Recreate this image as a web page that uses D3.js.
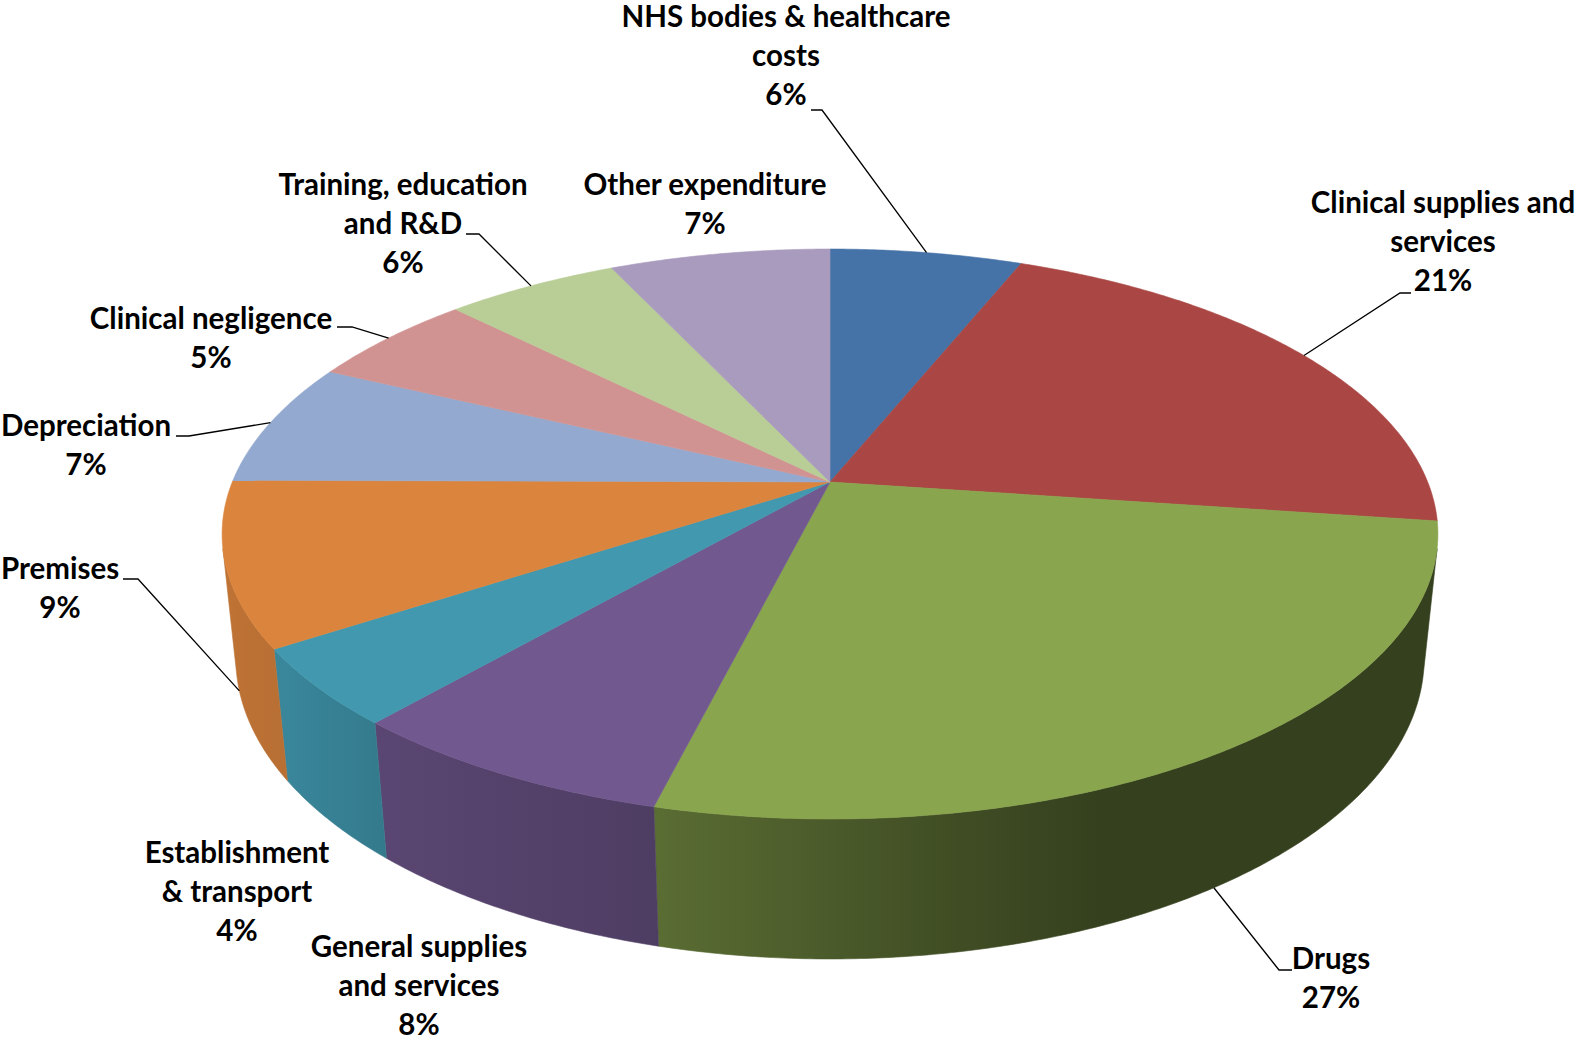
<!DOCTYPE html>
<html>
<head>
<meta charset="utf-8">
<script src="https://cdn.jsdelivr.net/npm/d3@7/dist/d3.min.js"></script>
<style>
  body { margin: 0; background: #fff; }
  .labels { font-family: Lato, "Open Sans", sans-serif; font-weight: 700; font-size: 29.5px; fill: #000; }
</style>
</head>
<body>
<svg id="chart" width="1579" height="1040"></svg>
<script>
/* chart data: expenditure categories and their shares (%) */
const categories = [
  "NHS bodies & healthcare\ncosts",
  "Clinical supplies and\nservices",
  "Drugs",
  "General supplies\nand services",
  "Establishment\n& transport",
  "Premises",
  "Depreciation",
  "Clinical negligence",
  "Training, education\nand R&D",
  "Other expenditure"
];
const values = [6.1, 21.1, 26.7, 7.5, 4.4, 9.3, 7.0, 5.4, 5.5, 7.0];
const colors = ["#4572A7", "#AA4643", "#89A54E", "#71588F", "#4198AF",
                "#DB843D", "#93A9CF", "#D19392", "#B9CD96", "#A99BBD"];

/* side wall shading, left -> right, as factor of the slice colour */
const sideShade = {
  2: [[0, 0.66], [0.31, 0.5], [0.57, 0.39], [1, 0.39]],
  3: [[0, 0.80], [1, 0.69]],
  4: [[0, 0.89], [1, 0.80]],
  5: [[0, 0.87], [1, 0.84]]
};

/* where the data labels sit (text centre x, first baseline y) and leader elbows */
const labelLayout = [
  {x: 786, y: 27, leader: [[811, 110], [822, 110]]},
  {x: 1443, y: 213, leader: [[1411, 293], [1400, 293]]},
  {x: 1331, y: 969, leader: [[1292, 970], [1279, 970]]},
  {x: 419, y: 957},
  {x: 237, y: 863},
  {x: 60, y: 579, leader: [[123, 579], [138, 579]]},
  {x: 86, y: 436, leader: [[176, 436], [189, 436]]},
  {x: 211, y: 329, leader: [[337, 327], [352, 327]]},
  {x: 403, y: 195, leader: [[466, 234], [479, 234]]},
  {x: 705, y: 195}
];

/* camera for the 3d pie (perspective, looking down) */
const cx = 830, cy = 482, focal = 2907;
const radius = 0.2056, depth = 0.0485;
const sinA = 0.4609, cosA = Math.sqrt(1 - sinA * sinA);

function project(theta, level) {
  const x = radius * Math.sin(theta);
  const z = -radius * Math.cos(theta);
  const y = level;
  const dz = 1 - y * sinA - z * cosA;
  return [cx + focal * x / dz, cy + focal * (z * sinA - y * cosA) / dz];
}

function arcPoints(a0, a1, level) {
  const n = Math.max(2, Math.ceil(Math.abs(a1 - a0) / (Math.PI / 360)));
  return d3.range(n + 1).map(i => project(a0 + (a1 - a0) * i / n, level));
}

function shade(c, f) {
  const r = d3.rgb(c);
  return d3.rgb(r.r * f, r.g * f, r.b * f).formatHex();
}

const svg = d3.select("#chart");
const defs = svg.append("defs");

const arcs = d3.pie().sort(null).value(d => d)(values);
const line = d3.line();

/* outer walls: only the part facing the viewer */
const front0 = Math.acos(-radius / cosA);
const front1 = 2 * Math.PI - front0;

const walls = svg.append("g").attr("class", "walls");
arcs.forEach((a, i) => {
  const a0 = Math.max(a.startAngle, front0);
  const a1 = Math.min(a.endAngle, front1);
  if (a0 >= a1) return;
  const top = arcPoints(a0, a1, 0);
  const bottom = arcPoints(a1, a0, -depth);
  const pts = top.concat(bottom);
  const xs = d3.extent(pts, p => p[0]);
  const stops = sideShade[i] || [[0, 0.8], [1, 0.7]];
  const grad = defs.append("linearGradient")
    .attr("id", "side" + i)
    .attr("gradientUnits", "userSpaceOnUse")
    .attr("x1", xs[0]).attr("x2", xs[1])
    .attr("y1", 0).attr("y2", 0);
  grad.selectAll("stop")
    .data(stops)
    .enter()
    .append("stop")
    .attr("offset", d => d[0])
    .attr("stop-color", d => shade(colors[i], d[1]));
  walls.append("path")
    .attr("d", line(pts) + "Z")
    .attr("fill", "url(#side" + i + ")")
    .attr("stroke", "url(#side" + i + ")")
    .attr("stroke-width", 0.6);
});

/* top faces */
svg.append("g")
  .attr("class", "slices")
  .selectAll("path")
  .data(arcs)
  .enter()
  .append("path")
  .attr("d", a => line([[cx, cy]].concat(arcPoints(a.startAngle, a.endAngle, 0))) + "Z")
  .attr("fill", (a, i) => colors[i])
  .attr("stroke", (a, i) => colors[i])
  .attr("stroke-width", 0.6);

/* leader lines from label to the slice edge at mid angle */
const leaders = svg.append("g").attr("class", "leaders");
arcs.forEach((a, i) => {
  const lay = labelLayout[i];
  if (!lay.leader) return;
  const mid = (a.startAngle + a.endAngle) / 2;
  const isFront = Math.cos(mid) < 0;
  const end = project(mid, isFront ? -depth : 0);
  leaders.append("path")
    .attr("d", line(lay.leader.concat([end])))
    .attr("fill", "none")
    .attr("stroke", "#000")
    .attr("stroke-width", 1.3);
});

/* data labels: category name and rounded percentage */
const lineHeight = 38.8;
const labels = svg.append("g").attr("class", "labels");
arcs.forEach((a, i) => {
  const lay = labelLayout[i];
  const lines = categories[i].split("\n").concat([Math.round(values[i]) + "%"]);
  const t = labels.append("text")
    .attr("text-anchor", "middle");
  lines.forEach((s, j) => {
    t.append("tspan")
      .attr("x", lay.x)
      .attr("y", lay.y + j * lineHeight)
      .text(s);
  });
});
</script>
</body>
</html>
